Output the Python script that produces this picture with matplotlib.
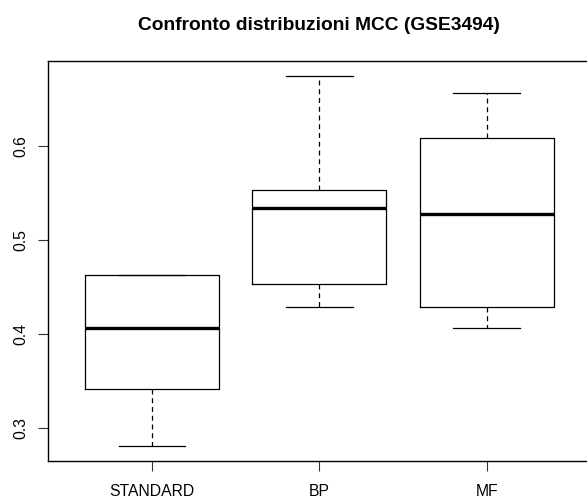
import matplotlib
matplotlib.use("Agg")
import matplotlib.pyplot as plt

categories = ["STANDARD", "BP", "MF"]
whislo = [0.2804, 0.4283, 0.4064]
q1 = [0.3415, 0.4535, 0.4287]
med = [0.4060, 0.5347, 0.5283]
q3 = [0.4623, 0.5532, 0.6088]
whishi = [0.4623, 0.6751, 0.6570]
yticks = [0.3, 0.4, 0.5, 0.6]
title = "Confronto distribuzioni MCC (GSE3494)"

plt.rcParams['font.family'] = ['Liberation Sans', 'DejaVu Sans']

fig = plt.figure(figsize=(5.87, 4.99), dpi=100)
W, H = 587, 499
left, right, top, bottom = 48.3, 590.4, 61, 461
ax = fig.add_axes([left / W, (H - bottom) / H, (right - left) / W, (bottom - top) / H])

stats = []
for i, c in enumerate(categories):
    stats.append(dict(label=c, whislo=whislo[i], q1=q1[i], med=med[i], q3=q3[i], whishi=whishi[i], fliers=[]))

ax.bxp(stats, positions=[1, 2, 3], widths=0.8, capwidths=0.4, showfliers=False,
       boxprops=dict(color='black', linewidth=0.9),
       medianprops=dict(color='black', linewidth=2.4, solid_capstyle='butt'),
       whiskerprops=dict(color='black', linewidth=0.9, linestyle=(0, (4, 3))),
       capprops=dict(color='black', linewidth=0.9))

ax.set_xlim(0.38, 3.62)
ax.set_ylim(0.2646, 0.6909)
ax.set_yticks(yticks)
ax.set_yticklabels([str(t) for t in yticks], rotation=90, va='center', fontsize=11.3)
ax.set_xticks([1, 2, 3])
ax.set_xticklabels(categories, fontsize=11.3)
ax.tick_params(axis='both', length=7.2, width=0.8, color='#333333')
ax.tick_params(axis='y', pad=7.5)
ax.tick_params(axis='x', pad=9.5)
for s in ax.spines.values():
    s.set_linewidth(1.0)
    s.set_color('black')

fig.text((left + right) / 2 / W, 1 - 25 / H, title, ha='center', va='center',
         fontsize=13.8, fontweight='bold')

fig.savefig("out.png", dpi=100)
